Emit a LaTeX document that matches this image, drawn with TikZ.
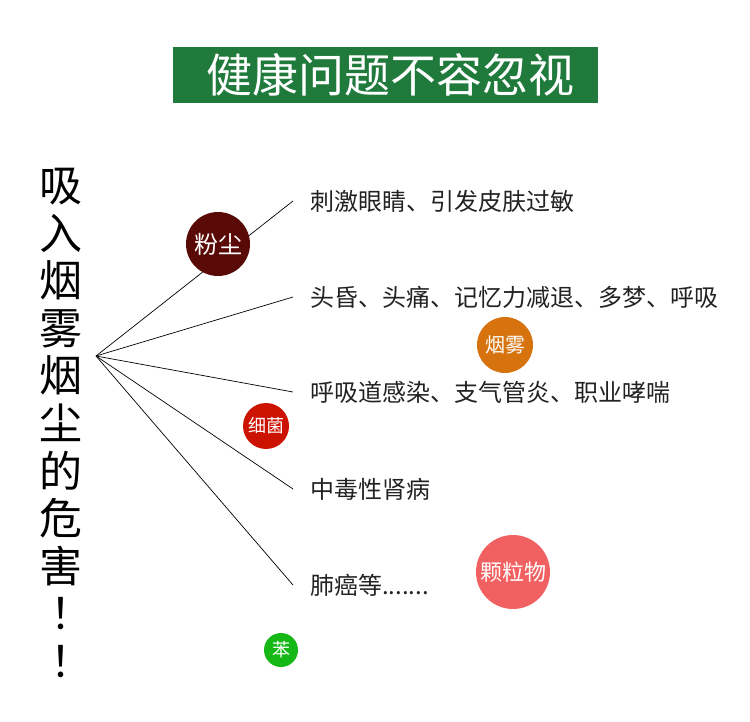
\documentclass[tikz,border=0pt]{standalone}
\usepackage{fontspec}
\setmainfont{Noto Sans CJK SC}
\newfontfamily\tcfont{Noto Sans CJK TC}
\usetikzlibrary{positioning}
\definecolor{titlegreen}{HTML}{1F7A3C}
\definecolor{textmain}{HTML}{222222}
\definecolor{dust}{HTML}{5A0A06}
\definecolor{smoke}{HTML}{D6730E}
\definecolor{germ}{HTML}{CC1200}
\definecolor{particle}{HTML}{F26161}
\definecolor{benzene}{HTML}{16B816}

\begin{document}
\begin{tikzpicture}[
    x=1pt, y=-1pt,
    title/.style={rectangle, fill=titlegreen, text=white, minimum width=425pt,
                  minimum height=56pt, inner sep=0pt, font=\fontsize{46}{50}\selectfont},
    sidetext/.style={align=center, inner sep=0pt, text=black,
                     font=\fontsize{43}{47.6}\selectfont},
    effect/.style={anchor=west, inner sep=0pt, text=textmain,
                   font=\fontsize{24}{28}\selectfont},
    bubble/.style={circle, inner sep=0pt, text=white},
    link/.style={black, line width=0.7pt}
  ]
    \useasboundingbox (0,0) rectangle (750,722);

    \node[title] (head) at (385.5,75) {\hspace*{10pt}健康问题不容忽视};
    \node[sidetext] (side) at (61,423) {吸\\入\\烟\\雾\\烟\\尘\\的\\危\\害\\{\tcfont ！}\\{\tcfont ！}};

    \coordinate (hub) at (96,356);
    \node[effect] (e1) at (310,201) {刺激眼睛、引发皮肤过敏};
    \node[effect] (e2) at (310,297) {头昏、头痛、记忆力减退、多梦、呼吸};
    \node[effect] (e3) at (310,392) {呼吸道感染、支气管炎、职业哮喘};
    \node[effect] (e4) at (310,489) {中毒性肾病};
    \node[effect] (e5) at (310,585) {肺癌等.......};

    \draw[link] (hub) -- ([xshift=-17pt]e1.west);
    \draw[link] (hub) -- ([xshift=-17pt]e2.west);
    \draw[link] (hub) -- ([xshift=-17pt]e3.west);
    \draw[link] (hub) -- ([xshift=-17pt]e4.west);
    \draw[link] (hub) -- ([xshift=-17pt]e5.west);

    \node[bubble, fill=dust, minimum size=64pt, font=\fontsize{24}{26}\selectfont] (b1) at (218,244) {粉尘};
    \node[bubble, fill=smoke, minimum size=56pt, font=\fontsize{20}{22}\selectfont] (b2) at (505,345) {烟雾};
    \node[bubble, fill=germ, minimum size=46pt, font=\fontsize{18}{20}\selectfont] (b3) at (266,426) {细菌};
    \node[bubble, fill=particle, minimum size=74pt, font=\fontsize{22}{24}\selectfont] (b4) at (513,572) {颗粒物};
    \node[bubble, fill=benzene, minimum size=34pt, font=\fontsize{18}{20}\selectfont] (b5) at (281,650) {苯};
  \end{tikzpicture}
\end{document}
